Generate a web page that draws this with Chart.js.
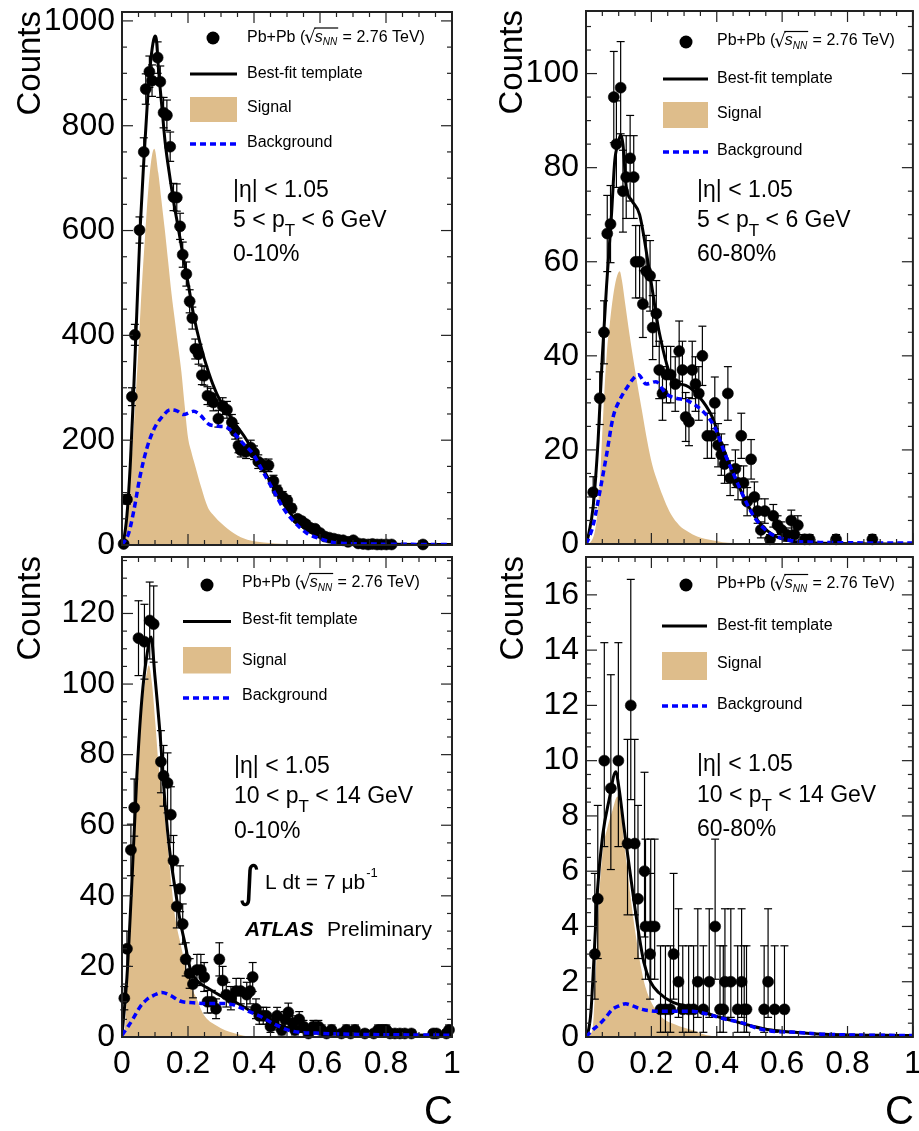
<!DOCTYPE html>
<html><head><meta charset="utf-8">
<script src="https://cdn.jsdelivr.net/npm/chart.js@4.4.1/dist/chart.umd.min.js"></script>
<style>
html,body{margin:0;padding:0;background:#fff;overflow:hidden;width:919px;height:1131px;}
canvas{position:absolute;left:0;top:0;}
</style></head><body>
<canvas id="c1" width="919" height="1131"></canvas>
<canvas id="c2" width="919" height="1131"></canvas>
<canvas id="c3" width="919" height="1131"></canvas>
<canvas id="c4" width="919" height="1131"></canvas>
<script>
// ---------- axis tick labels ----------
const xTickValues = [0, 0.2, 0.4, 0.6, 0.8, 1];
const tlYTicks = [0, 200, 400, 600, 800, 1000];
const trYTicks = [0, 20, 40, 60, 80, 100];
const blYTicks = [0, 20, 40, 60, 80, 100, 120];
const brYTicks = [0, 2, 4, 6, 8, 10, 12, 14, 16];

// ---------- Top-left: 5<pT<6 GeV, 0-10% ----------
const tlDataX = [0.005,0.015,0.030,0.039,0.053,0.066,0.072,0.083,0.091,0.108,0.116,0.126,0.136,0.146,0.156,0.166,0.176,0.184,0.195,0.205,0.213,0.222,0.232,0.242,0.249,0.259,0.269,0.277,0.292,0.305,0.318,0.333,0.343,0.353,0.360,0.376,0.390,0.400,0.413,0.428,0.444,0.459,0.471,0.487,0.501,0.514,0.532,0.544,0.557,0.570,0.585,0.600,0.615,0.628,0.642,0.655,0.670,0.685,0.701,0.716,0.731,0.746,0.759,0.773,0.786,0.801,0.817,0.912];
const tlDataY = [2,87,283,401,601,750,870,903,886,930,884,825,820,760,664,663,608,554,517,465,433,374,364,324,323,285,282,272,241,265,258,234,217,190,181,178,186,176,159,152,152,122,104,92,85,70,50,46,40,33,31,23,16,14,12,10,9,6,9,3,2,1,2,1,1,1,1,1];
const tlErr   = [2,9,17,20,25,27,29,30,30,30,30,29,29,28,26,26,25,24,23,22,21,19,19,18,18,17,17,16,16,16,16,15,15,14,13,13,14,13,13,12,12,11,10,10,9,8,7,7,6,6,6,5,4,4,3,3,3,2,3,2,1,1,1,1,1,1,1,1];
const tlFitX = [0,0.005,0.015,0.025,0.035,0.045,0.055,0.066,0.076,0.086,0.094,0.1,0.104,0.111,0.121,0.131,0.146,0.156,0.171,0.186,0.202,0.217,0.237,0.262,0.287,0.318,0.348,0.378,0.408,0.439,0.469,0.499,0.529,0.559,0.6,0.64,0.7,0.79,1];
const tlFitY = [0,9,57,152,289,446,603,732,835,917,958,971,965,905,835,767,698,657,603,548,493,439,384,330,289,255,227,200,166,132,98,70,46,29,16,9,5,2,1];
const tlSigX = [0,0.01,0.02,0.03,0.04,0.05,0.06,0.07,0.08,0.09,0.098,0.11,0.12,0.13,0.14,0.15,0.16,0.17,0.18,0.19,0.2,0.21,0.22,0.24,0.26,0.28,0.3,0.34,0.38,0.43,0.5,0.6,1];
const tlSigY = [0,25,84,170,270,375,493,590,680,740,756,710,655,600,540,480,430,380,330,265,205,178,155,110,72,55,42,22,10,5,2,0.5,0];
const tlBkgX = [0,0.02,0.035,0.055,0.076,0.096,0.126,0.146,0.166,0.186,0.217,0.237,0.262,0.287,0.318,0.338,0.368,0.398,0.428,0.459,0.489,0.519,0.559,0.6,0.64,0.74,1];
const tlBkgY = [0,22,63,132,186,220,248,258,256,249,255,248,231,227,224,214,193,173,139,104,70,46,23,12,5,2,1];

// ---------- Top-right: 5<pT<6 GeV, 60-80% ----------
const trDataX = [0.022,0.042,0.055,0.065,0.075,0.085,0.093,0.106,0.113,0.123,0.135,0.146,0.152,0.164,0.174,0.184,0.196,0.204,0.215,0.224,0.234,0.246,0.259,0.273,0.285,0.295,0.305,0.315,0.325,0.335,0.345,0.356,0.371,0.384,0.394,0.404,0.414,0.424,0.434,0.441,0.457,0.465,0.475,0.482,0.493,0.505,0.515,0.525,0.535,0.547,0.563,0.573,0.586,0.598,0.613,0.628,0.638,0.648,0.669,0.684,0.765,0.876];
const trDataY = [11,31,45,66,68,95,85,97,75,78,82,78,60,60,51,58,57,46,49,37,32,36,36,34,41,37,27,26,37,34,32,40,23,23,30,21,19,17,32,14,16,13,23,13,9,18,10,7,3,7,1,6,4,3,2,5,2,4,1,1,1,1];
const trErr   = [3.3,5.6,6.7,8.1,8.2,9.7,9.2,9.8,8.7,8.8,9.1,8.8,7.7,7.7,7.1,7.6,7.5,6.8,7,6.1,5.7,6,6,5.8,6.4,6.1,5.2,5.1,6.1,5.8,5.7,6.3,4.8,4.8,5.5,4.6,4.4,4.1,5.7,3.7,4,3.6,4.8,3.6,3,4.2,3.2,2.6,1.7,2.6,1,2.4,2,1.7,1.4,2.2,1.4,2,1,1,1,1];
const trFitX = [0,0.007,0.022,0.037,0.05,0.063,0.078,0.088,0.098,0.106,0.113,0.123,0.14,0.164,0.194,0.224,0.265,0.305,0.345,0.386,0.416,0.457,0.497,0.537,0.578,0.628,0.7,1];
const trFitY = [0,1.7,8,22,40,55,70,81.5,85,87,85,76,73,70,58,45,35,33.7,31.4,27,21,14,8,4,1.7,0.6,0.2,0];
const trSigX = [0,0.015,0.032,0.042,0.053,0.063,0.073,0.083,0.093,0.103,0.11,0.12,0.13,0.143,0.157,0.172,0.187,0.202,0.22,0.24,0.26,0.285,0.31,0.34,0.386,0.45,1];
const trSigY = [0,0.5,4.8,13,28,40,47,52.7,56.5,58,56,51,46,40,34,28,22,17,13,9.3,6.3,4,2.7,1.6,0.8,0.2,0];
const trBkgX = [0,0.007,0.022,0.042,0.063,0.083,0.103,0.123,0.143,0.16,0.184,0.214,0.244,0.275,0.305,0.335,0.366,0.396,0.426,0.457,0.487,0.517,0.558,0.608,0.68,1];
const trBkgY = [0,1,4,11,19,27,30.6,33,35,36,34,34.5,32,31,30.6,29.5,27.6,24.5,19,14,9.3,5.5,2.5,1,0.4,0.2];

// ---------- Bottom-left: 10<pT<14 GeV, 0-10% ----------
const blDataX = [0.007,0.015,0.027,0.037,0.05,0.068,0.084,0.096,0.118,0.126,0.138,0.148,0.156,0.166,0.176,0.184,0.193,0.205,0.215,0.227,0.239,0.249,0.259,0.272,0.285,0.295,0.305,0.316,0.33,0.346,0.36,0.378,0.388,0.396,0.406,0.416,0.428,0.438,0.45,0.46,0.47,0.484,0.494,0.504,0.517,0.524,0.537,0.55,0.565,0.58,0.595,0.605,0.62,0.635,0.665,0.68,0.693,0.706,0.736,0.763,0.776,0.789,0.801,0.812,0.827,0.842,0.857,0.877,0.943,0.953,0.983,0.991];
const blDataY = [11,25,53,65,113,112,118,117,78,74,72,63,50,37,42,32,22,18,15,19,19,17,10,10,8,22,16,12,11,13,13,12,13,17,8,6,6,6,3,4,6,2,5,7,4,2,5,3,1,3,3,2,1,2,1,2,1,2,1,1,2,2,2,1,1,1,1,1,1,1,1,2];
const blErr   = [3.3,5,7.3,8.1,10.6,10.6,10.9,10.8,8.8,8.6,8.5,7.9,7.1,6.1,6.5,5.7,4.7,4.2,3.9,4.4,4.4,4.1,3.2,3.2,2.8,4.7,4,3.5,3.3,3.6,3.6,3.5,3.6,4.1,2.8,2.4,2.4,2.4,1.7,2,2.4,1.4,2.2,2.6,2,1.4,2.2,1.7,1,1.7,1.7,1.4,1,1.4,1,1.4,1,1.4,1,1,1.4,1.4,1.4,1,1,1,1,1,1,1,1,1.4];
const blFitX = [0,0.015,0.03,0.045,0.06,0.076,0.088,0.1,0.116,0.131,0.146,0.161,0.176,0.192,0.207,0.227,0.257,0.297,0.338,0.378,0.418,0.459,0.499,0.539,0.59,0.64,1];
const blFitY = [0.5,17,44,74,95.6,108.5,113.3,102,85,65.5,51.6,42,33,26,19.3,16,14,11.8,10.2,8,5.9,3.8,2.7,1.6,1.1,0.9,0.5];
const blSigX = [0,0.007,0.015,0.025,0.035,0.045,0.055,0.066,0.076,0.081,0.091,0.101,0.111,0.121,0.131,0.141,0.151,0.161,0.176,0.192,0.207,0.227,0.247,0.287,0.338,0.4,1];
const blSigY = [0,1,12,33,55,74,89,98,103.6,105.3,100,89,77,70,61,51.6,42,34,27,20.4,15,10.7,6.4,3.2,1.1,0,0];
const blBkgX = [0,0.02,0.035,0.055,0.076,0.096,0.121,0.146,0.176,0.217,0.257,0.297,0.338,0.378,0.418,0.459,0.499,0.539,0.59,0.64,1];
const blBkgY = [0.5,3.2,5.4,8.6,10.7,11.8,12.6,11.8,10.2,9.7,9.5,9.5,9.1,7.5,5.9,3.8,2.1,1.3,1.1,0.9,0.5];

// ---------- Bottom-right: 10<pT<14 GeV, 60-80% ----------
const brDataX = [0.027,0.036,0.056,0.076,0.099,0.127,0.137,0.149,0.159,0.179,0.182,0.196,0.198,0.21,0.228,0.243,0.258,0.268,0.283,0.296,0.314,0.329,0.342,0.359,0.377,0.395,0.41,0.42,0.425,0.443,0.464,0.476,0.484,0.491,0.545,0.557,0.577,0.607];
const brDataY = [3,5,10,9,10,7,12,7,5,6,4,3,4,4,1,1,1,3,2,1,1,1,2,1,2,4,1,1,2,2,1,2,1,1,1,2,1,1];
const brErrLo = [1.63,2.16,3.11,2.94,3.11,2.58,3.41,2.58,2.16,2.38,1.91,1.63,1.91,1.91,0.83,0.83,0.83,1.63,1.29,0.83,0.83,0.83,1.29,0.83,1.29,1.91,0.83,0.83,1.29,1.29,0.83,1.29,0.83,0.83,0.83,1.29,0.83,0.83];
const brErrHi = [2.92,3.38,4.27,4.11,4.27,3.77,4.56,3.77,3.38,3.58,3.16,2.92,3.16,3.16,2.30,2.30,2.30,2.92,2.64,2.30,2.30,2.30,2.64,2.30,2.64,3.16,2.30,2.30,2.64,2.64,2.30,2.64,2.30,2.30,2.30,2.64,2.30,2.30];
const brFitX = [0,0.005,0.015,0.025,0.035,0.051,0.071,0.091,0.101,0.116,0.132,0.147,0.162,0.177,0.197,0.223,0.263,0.324,0.385,0.445,0.506,0.567,0.628,0.729,1];
const brFitY = [0,0.1,0.9,3,5.3,7.3,8.6,9.6,9,7.6,6.2,4.9,3.7,2.7,2.0,1.6,1.27,1.06,0.8,0.6,0.4,0.25,0.18,0.1,0.05];
const brSigX = [0,0.02,0.03,0.04,0.051,0.066,0.081,0.096,0.106,0.116,0.127,0.137,0.152,0.167,0.182,0.202,0.233,0.273,0.324,0.385,1];
const brSigY = [0,0.25,2.3,5,6.7,7.6,8.2,8.7,8.2,7.1,6,5,3.7,2.6,1.8,1.2,0.7,0.45,0.25,0.04,0];
const brBkgX = [0,0.02,0.04,0.061,0.081,0.101,0.121,0.142,0.172,0.223,0.273,0.324,0.374,0.425,0.476,0.526,0.577,0.628,0.729,1];
const brBkgY = [0,0.25,0.45,0.72,1.0,1.13,1.2,1.13,1.0,0.93,0.93,0.93,0.82,0.65,0.52,0.31,0.2,0.18,0.1,0.05];

// ---------- text ----------
const legendData = 'Pb+Pb';
const legendFit = 'Best-fit template';
const legendSig = 'Signal';
const legendBkg = 'Background';
const etaText = '|η| < 1.05';
const centralities = ['0-10%', '60-80%', '0-10%', '60-80%'];
const ptRanges = [['5 < p', ' < 6 GeV'], ['5 < p', ' < 6 GeV'], ['10 < p', ' < 14 GeV'], ['10 < p', ' < 14 GeV']];

// ---------- styling / layout ----------
const TAN = 'rgb(222,189,139)';
const FONT = '"Liberation Sans", Arial, Helvetica, sans-serif';
const TICK_FONT = 32;
const YAXIS_W = 110;
Chart.defaults.font.family = FONT;

const pairs = (xs, ys) => xs.map((x, i) => ({x: x, y: ys[i]}));
const fmtX = v => { const r = Math.round(v * 10) / 10; return String(r); };

function line(ctx, x1, y1, x2, y2) { ctx.beginPath(); ctx.moveTo(x1, y1); ctx.lineTo(x2, y2); ctx.stroke(); }

function drawPbPb(ctx, x, y) {
  ctx.fillStyle = '#000'; ctx.strokeStyle = '#000';
  ctx.textBaseline = 'middle'; ctx.textAlign = 'left';
  ctx.font = '16px ' + FONT;
  const a = legendData + ' (';
  ctx.fillText(a, x, y); x += ctx.measureText(a).width;
  ctx.font = '18px "DejaVu Sans"';
  ctx.fillText('√', x - 1, y + 1);
  const rw = ctx.measureText('√').width;
  const ox = x - 1 + rw - 1.5; x += rw - 2;
  ctx.font = 'italic 16px ' + FONT;
  ctx.fillText('s', x, y); x += ctx.measureText('s').width;
  ctx.font = 'italic 10px ' + FONT;
  ctx.fillText('NN', x, y + 5); x += ctx.measureText('NN').width;
  ctx.lineWidth = 1.2;
  line(ctx, ox, y - 9.5, x + 1, y - 9.5);
  ctx.font = '16px ' + FONT;
  ctx.fillText(' = 2.76 TeV)', x + 1, y);
}

function drawPT(ctx, x, y, pre, post, size) {
  ctx.textBaseline = 'middle'; ctx.textAlign = 'left'; ctx.fillStyle = '#000';
  ctx.font = size + 'px ' + FONT;
  ctx.fillText(pre, x, y); x += ctx.measureText(pre).width;
  ctx.font = Math.round(size * 0.74) + 'px ' + FONT;
  ctx.fillText('T', x, y + size * 0.45); x += ctx.measureText('T').width;
  ctx.font = size + 'px ' + FONT;
  ctx.fillText(post, x, y);
}

const panelPlugin = {
  id: 'panel',
  beforeDatasetDraw(chart, args, o) {
    if (args.index !== 1) return;
    const ctx = chart.ctx, xs = chart.scales.x, ys = chart.scales.y;
    const pts = chart.data.datasets[1].data;
    ctx.save();
    ctx.strokeStyle = '#000'; ctx.lineWidth = 1.2;
    pts.forEach((p, i) => {
      const px = xs.getPixelForValue(p.x);
      const lo = o.errLo[i], hi = o.errHi[i];
      const y1 = ys.getPixelForValue(Math.max(p.y - lo, 0));
      const y2 = ys.getPixelForValue(p.y + hi);
      line(ctx, px, y1, px, y2);
      line(ctx, px - 4, y1, px + 4, y1);
      line(ctx, px - 4, y2, px + 4, y2);
    });
    ctx.restore();
  },
  afterDraw(chart, args, o) {
    const ctx = chart.ctx, a = chart.chartArea, xs = chart.scales.x, ys = chart.scales.y;
    ctx.save();
    // ticks
    ctx.strokeStyle = '#222'; ctx.lineWidth = 1.2;
    for (let k = 0; k <= 20; k++) {
      const px = xs.getPixelForValue(k * 0.05);
      const len = (k % 4 === 0) ? 11 : 5;
      line(ctx, px, a.bottom, px, a.bottom - len);
      line(ctx, px, a.top, px, a.top + len);
    }
    const per = Math.round(o.ystep / o.yminor);
    for (let k = 0; k * o.yminor <= o.ymax + 1e-9; k++) {
      const py = ys.getPixelForValue(k * o.yminor);
      const len = (k % per === 0) ? 11 : 5;
      line(ctx, a.left, py, a.left + len, py);
      line(ctx, a.right, py, a.right - len, py);
    }
    // frame
    ctx.strokeStyle = '#222'; ctx.lineWidth = 2;
    ctx.strokeRect(a.left, a.top, a.right - a.left, a.bottom - a.top);

    // axis titles
    ctx.fillStyle = '#000';
    ctx.save();
    ctx.translate(o.countsX, a.top - 1);
    ctx.rotate(-Math.PI / 2);
    ctx.font = '33px ' + FONT; ctx.textAlign = 'right'; ctx.textBaseline = 'alphabetic';
    ctx.fillText('Counts', 0, 0);
    ctx.restore();
    if (o.showX) {
      ctx.font = '40px ' + FONT; ctx.textAlign = 'right'; ctx.textBaseline = 'alphabetic';
      ctx.fillText('C', a.right + 1, 1124);
    }

    // legend
    const L = o.leg;
    ctx.fillStyle = '#000';
    ctx.beginPath(); ctx.arc(L.mx, L.my, 6.5, 0, Math.PI * 2); ctx.fill();
    drawPbPb(ctx, L.tx, L.t1);
    ctx.strokeStyle = '#000'; ctx.lineWidth = 3;
    line(ctx, L.lx1, L.fy, L.lx2, L.fy);
    ctx.font = '16px ' + FONT; ctx.textBaseline = 'middle'; ctx.textAlign = 'left';
    ctx.fillText(legendFit, L.tx, L.t2);
    ctx.fillStyle = TAN;
    ctx.fillRect(L.lx1, L.by1, L.lx2 - L.lx1, L.by2 - L.by1);
    ctx.fillStyle = '#000';
    ctx.fillText(legendSig, L.tx, L.t3);
    ctx.strokeStyle = '#0000ff'; ctx.lineWidth = 3.5; ctx.setLineDash([6, 4]);
    line(ctx, L.lx1, L.gy, L.lx2, L.gy);
    ctx.setLineDash([]);
    ctx.fillText(legendBkg, L.tx, L.t4);

    // annotations
    const A = o.ann;
    ctx.font = '23px ' + FONT; ctx.textBaseline = 'middle'; ctx.textAlign = 'left';
    ctx.fillText(etaText, A.x, A.y[0]);
    drawPT(ctx, A.x, A.y[1], o.pt[0], o.pt[1], 23);
    ctx.font = '23px ' + FONT;
    ctx.fillText(o.cent, A.x, A.y[2]);
    if (A.lumi) {
      ctx.font = '44px "DejaVu Sans"';
      ctx.fillText('∫', A.lumi.ix, A.lumi.y + 2);
      ctx.font = '21px ' + FONT;
      const s = 'L dt = 7 μb';
      ctx.fillText(s, A.lumi.tx, A.lumi.y);
      const w = ctx.measureText(s).width;
      ctx.font = '13px ' + FONT;
      ctx.fillText('-1', A.lumi.tx + w + 1, A.lumi.y - 10);
      ctx.font = 'bold italic 21px ' + FONT;
      ctx.fillText('ATLAS', A.atlas.x, A.atlas.y);
      ctx.font = '21px ' + FONT;
      ctx.fillText('Preliminary', A.atlas.px, A.atlas.y);
    }
    ctx.restore();
  }
};
Chart.register(panelPlugin);

const panels = [
  { id: 'c1', left: 122, right: 452, top: 12, bottom: 545, ymax: 1017, yTicks: tlYTicks, ystep: 200, yminor: 50, showX: false, countsX: 40,
    sigX: tlSigX, sigY: tlSigY, dX: tlDataX, dY: tlDataY, errLo: tlErr, errHi: tlErr, fitX: tlFitX, fitY: tlFitY, bkgX: tlBkgX, bkgY: tlBkgY,
    leg: { mx: 213, my: 38, tx: 247, t1: 37.5, lx1: 190, lx2: 237, fy: 74, t2: 74, by1: 97, by2: 122, t3: 108, gy: 144, t4: 143 },
    ann: { x: 233, y: [191, 221, 255] }, cent: centralities[0], pt: ptRanges[0] },
  { id: 'c2', left: 586, right: 915, top: 11, bottom: 544, ymax: 113.3, yTicks: trYTicks, ystep: 20, yminor: 5, showX: false, countsX: 522,
    sigX: trSigX, sigY: trSigY, dX: trDataX, dY: trDataY, errLo: trErr, errHi: trErr, fitX: trFitX, fitY: trFitY, bkgX: trBkgX, bkgY: trBkgY,
    leg: { mx: 686, my: 42, tx: 717, t1: 41, lx1: 663, lx2: 708, fy: 79, t2: 79, by1: 102, by2: 128, t3: 113.5, gy: 152, t4: 151 },
    ann: { x: 697, y: [191, 221, 255] }, cent: centralities[1], pt: ptRanges[1] },
  { id: 'c3', left: 122, right: 452, top: 557, bottom: 1037, ymax: 136, yTicks: blYTicks, ystep: 20, yminor: 5, showX: true, countsX: 40,
    sigX: blSigX, sigY: blSigY, dX: blDataX, dY: blDataY, errLo: blErr, errHi: blErr, fitX: blFitX, fitY: blFitY, bkgX: blBkgX, bkgY: blBkgY,
    leg: { mx: 207, my: 585, tx: 242, t1: 583, lx1: 183, lx2: 231, fy: 621.5, t2: 620, by1: 647, by2: 673.5, t3: 660.5, gy: 698, t4: 695.5 },
    ann: { x: 234, y: [766.5, 797, 831.5], lumi: { ix: 238, tx: 265, y: 883.5 }, atlas: { x: 245, px: 327, y: 930 } },
    cent: centralities[2], pt: ptRanges[2] },
  { id: 'c4', left: 586, right: 915, top: 557, bottom: 1037, ymax: 17.37, yTicks: brYTicks, ystep: 2, yminor: 0.5, showX: true, countsX: 523,
    sigX: brSigX, sigY: brSigY, dX: brDataX, dY: brDataY, errLo: brErrLo, errHi: brErrHi, fitX: brFitX, fitY: brFitY, bkgX: brBkgX, bkgY: brBkgY,
    leg: { mx: 686, my: 585, tx: 717, t1: 584, lx1: 662, lx2: 707, fy: 626, t2: 626, by1: 652, by2: 680, t3: 664, gy: 706, t4: 705 },
    ann: { x: 697, y: [765, 795.5, 829.5] }, cent: centralities[3], pt: ptRanges[3] }
];

panels.forEach(P => {
  const xH = P.showX ? 50 : 0;
  new Chart(document.getElementById(P.id), {
    type: 'line',
    data: {
      datasets: [
        { data: pairs(P.sigX, P.sigY), fill: 'origin', backgroundColor: TAN, borderColor: TAN, borderWidth: 0,
          pointRadius: 0, cubicInterpolationMode: 'monotone', order: 4 },
        { data: pairs(P.dX, P.dY), showLine: false, pointRadius: 5.5, pointBackgroundColor: '#000',
          pointBorderColor: '#000', pointBorderWidth: 0.6, order: 3, clip: false },
        { data: pairs(P.fitX, P.fitY), borderColor: '#000', borderWidth: 3, pointRadius: 0,
          cubicInterpolationMode: 'monotone', fill: false, order: 2 },
        { data: pairs(P.bkgX, P.bkgY), borderColor: '#0000ff', borderWidth: 3.5, borderDash: [6, 4], pointRadius: 0,
          cubicInterpolationMode: 'monotone', fill: false, order: 1 }
      ]
    },
    options: {
      responsive: false, animation: false, devicePixelRatio: 1, events: [],
      layout: { padding: { left: P.left - YAXIS_W, right: 919 - P.right, top: P.top, bottom: 1131 - P.bottom - xH } },
      plugins: {
        legend: { display: false }, tooltip: { enabled: false },
        panel: { errLo: P.errLo, errHi: P.errHi, ymax: P.ymax, ystep: P.ystep, yminor: P.yminor, showX: P.showX,
                 countsX: P.countsX, leg: P.leg, ann: P.ann, cent: P.cent, pt: P.pt }
      },
      scales: {
        x: {
          type: 'linear', min: 0, max: 1, display: P.showX,
          grid: { display: false, drawTicks: false }, border: { display: false },
          afterBuildTicks: s => { s.ticks = xTickValues.map(v => ({ value: v })); },
          ticks: { padding: 8, color: '#000', font: { size: TICK_FONT, family: FONT }, maxRotation: 0, autoSkip: false, callback: v => fmtX(v) },
          afterFit: s => { s.height = xH; s.paddingLeft = 0; s.paddingRight = 0; }
        },
        y: {
          type: 'linear', min: 0, max: P.ymax,
          grid: { display: false, drawTicks: false }, border: { display: false },
          afterBuildTicks: s => { s.ticks = P.yTicks.map(v => ({ value: v })); },
          ticks: { padding: 7, color: '#000', font: { size: TICK_FONT, family: FONT }, autoSkip: false,
                   callback: v => String(v) },
          afterFit: s => { s.width = YAXIS_W; s.paddingTop = 0; s.paddingBottom = 0; }
        }
      }
    }
  });
});
</script>
</body></html>
